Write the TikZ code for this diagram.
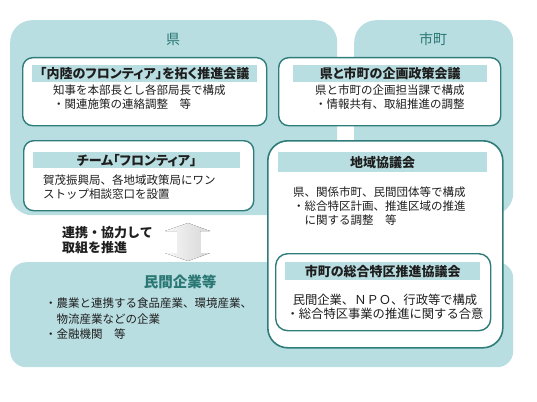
\documentclass[tikz,border=0pt]{standalone}
\usepackage{fontspec}
\setmainfont{Noto Sans CJK JP}
\newfontfamily\jpp[RawFeature=+palt]{Noto Sans CJK JP}
\definecolor{panel}{HTML}{B9DEE1}
\definecolor{edge}{HTML}{2E7D7A}
\definecolor{ttlc}{HTML}{2A7774}
\definecolor{ink}{HTML}{1E1E1E}
\tikzset{
  panelbox/.style={fill=panel, rounded corners=22pt, inner sep=0pt, anchor=north west},
  wbox/.style={draw=edge, line width=1.4pt, fill=white, rounded corners=10pt, inner sep=0pt, anchor=north west},
  band/.style={fill=panel, inner sep=0pt, anchor=north west},
  hd/.style={font=\jpp\fontsize{13}{15}\selectfont\bfseries, text=ink, inner sep=0pt},
  bd/.style={font=\fontsize{11.5}{14}\selectfont, text=ink, align=left, inner sep=0pt, anchor=west},
  ttl/.style={font=\fontsize{14}{16}\selectfont, text=ttlc, inner sep=0pt}
}
\begin{document}
\begin{tikzpicture}[x=1pt,y=-1pt]
\useasboundingbox (0,0) rectangle (537,401);
% panels
\node[panelbox, minimum width=327pt, minimum height=195pt] (ken) at (10,20) {};
\node[panelbox, minimum width=159pt, minimum height=195pt] (shicho) at (354,20) {};
\node[panelbox, rounded corners=16pt, minimum width=503pt, minimum height=105pt] (minkan) at (10,262) {};
\node[ttl] (kenT) at (173,39) {県};
\node[ttl] (shichoT) at (433,39) {市町};
\node[ttl, font=\fontsize{14.5}{16}\selectfont\bfseries] (minkanT) at (180,282) {民間企業等};
\node[bd, font=\fontsize{11.5}{15.5}\selectfont] (minkanB) at (45,319) {・農業と連携する食品産業、環境産業、\\\phantom{・}物流産業などの企業\\・金融機関　等};
% box 1
\node[wbox, minimum width=244pt, minimum height=68pt] (b1) at (22,57) {};
\node[band, minimum width=225pt, minimum height=17pt] (b1h) at (32,65) {};
\node[hd] (b1t) at (b1h.center) {「内陸のフロンティア」を拓く推進会議};
\node[bd] (b1b) at (53,97) {知事を本部長とし各部局長で構成\\・関連施策の連絡調整　等};
% box 2
\node[wbox, minimum width=222pt, minimum height=68pt] (b2) at (278,57) {};
\node[band, minimum width=194pt, minimum height=17pt] (b2h) at (293,65) {};
\node[hd] (b2t) at (b2h.center) {県と市町の企画政策会議};
\node[bd] (b2b) at (315,97) {県と市町の企画担当課で構成\\・情報共有、取組推進の調整};
% box 3
\node[wbox, minimum width=230pt, minimum height=70pt] (b3) at (23,140) {};
\node[band, minimum width=207pt, minimum height=16pt] (b3h) at (33,152) {};
\node[hd] (b3t) at (b3h.center) {チーム「フロンティア」};
\node[bd] (b3b) at (43,187) {賀茂振興局、各地域政策局にワン\\ストップ相談窓口を設置};
% box 4
\node[wbox, rounded corners=20pt, line width=1.6pt, minimum width=235pt, minimum height=207pt] (b4) at (267,140) {};
\node[band, minimum width=209pt, minimum height=20pt] (b4h) at (278,152) {};
\node[hd] (b4t) at (b4h.center) {地域協議会};
\node[bd] (b4b) at (293,206) {県、関係市町、民間団体等で構成\\・総合特区計画、推進区域の推進\\\phantom{・}に関する調整　等};
% box 5
\node[wbox, rounded corners=12pt, minimum width=215pt, minimum height=77pt] (b5) at (275,253) {};
\node[band, minimum width=195pt, minimum height=18pt] (b5h) at (285,262) {};
\node[hd] (b5t) at (b5h.center) {市町の総合特区推進協議会};
\node[bd, anchor=center, align=center, font=\fontsize{12.3}{14}\selectfont] (b5b) at (385,307) {民間企業、ＮＰＯ、行政等で構成\\・総合特区事業の推進に関する合意};
% arrow
\node[bd, font=\fontsize{13}{15}\selectfont\bfseries] (arrT) at (62,240) {連携・協力して\\取組を推進};
\fill[left color=gray!6, right color=gray!32] (188,223) -- (210,231) -- (200,231) -- (200,253) -- (210,253) -- (188,261) -- (165,253) -- (177,253) -- (177,231) -- (165,231) -- cycle;
\end{tikzpicture}
\end{document}
